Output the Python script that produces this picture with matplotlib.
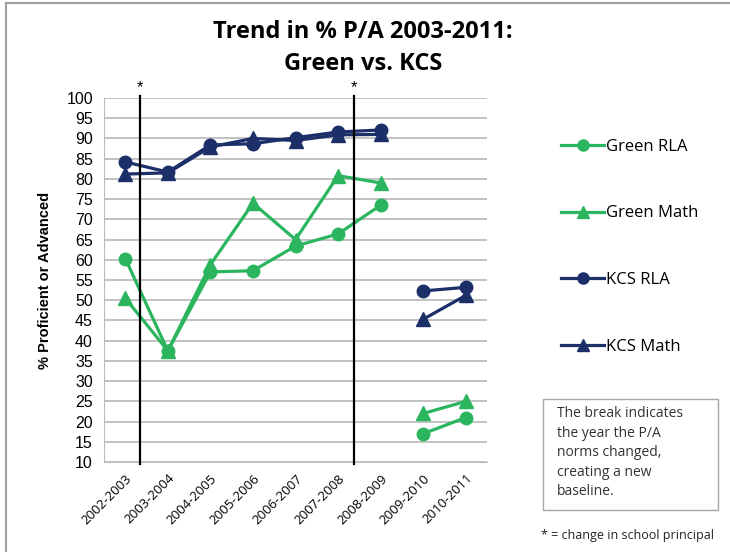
import numpy as np
import matplotlib.pyplot as plt
from matplotlib.lines import Line2D
from matplotlib.patches import Rectangle

years = ["2002-2003", "2003-2004", "2004-2005", "2005-2006", "2006-2007",
         "2007-2008", "2008-2009", "2009-2010", "2010-2011"]
green_rla = [60.3, 37.5, 57.0, 57.3, 63.4, 66.4, 73.5, 17.0, 21.0]
green_math = [50.5, 37.5, 58.8, 74.0, 65.0, 80.8, 79.0, 22.0, 25.0]
kcs_rla = [84.2, 81.7, 88.4, 88.7, 90.2, 91.6, 92.1, 52.3, 53.2]
kcs_math = [81.2, 81.5, 87.9, 90.0, 89.5, 90.9, 91.0, 45.3, 51.2]
brk = 7  # norms changed after 2008-2009

GREEN = "#2BB55E"
NAVY = "#1C2F68"

fig = plt.figure(figsize=(7.3, 5.52), dpi=100)
ax = fig.add_axes([0.1425, 0.163, 0.5247, 0.6594])

x = np.arange(len(years))
series = [
    ("Green RLA", green_rla, GREEN, "o", 9),
    ("Green Math", green_math, GREEN, "^", 10),
    ("KCS RLA", kcs_rla, NAVY, "o", 9),
    ("KCS Math", kcs_math, NAVY, "^", 10),
]
handles = []
for name, vals, col, mk, ms in series:
    v = np.array(vals)
    ax.plot(x[:brk], v[:brk], color=col, lw=2.3, marker=mk, ms=ms, zorder=3)
    ax.plot(x[brk:], v[brk:], color=col, lw=2.3, marker=mk, ms=ms, zorder=3)
    handles.append(Line2D([], [], color=col, lw=2.3, marker=mk, ms=ms - 1))

# principal changes
for xv in [0.35, 5.38]:
    ax.plot([xv, xv], [9.6, 100.4], color="black", lw=1.6, clip_on=False, zorder=4)
    ax.text(xv, 100.6, "*", ha="center", va="bottom", fontsize=12, family="Liberation Sans")

ax.set_xlim(-0.5, 8.5)
ax.set_ylim(10, 100)
ax.set_yticks(np.arange(10, 101, 5))
ax.yaxis.grid(True, color="#BDBDBD", lw=1.3)
ax.set_axisbelow(True)
ax.set_xticks(x)
ax.set_xticklabels(years, rotation=45, ha="right", rotation_mode="anchor",
                   fontsize=9.5, family="Open Sans")
for lab in ax.get_yticklabels():
    lab.set_family("Liberation Sans")
    lab.set_fontsize(11.5)
ax.tick_params(axis="y", length=0, pad=8)
ax.tick_params(axis="x", length=0, pad=7)
for s in ["top", "right"]:
    ax.spines[s].set_visible(False)
ax.spines["left"].set_color("#BDBDBD")
ax.spines["bottom"].set_color("#BDBDBD")
ax.set_ylabel("% Proficient or Advanced", fontsize=10.5, fontweight="bold",
              family="Liberation Sans", labelpad=10)

fig.text(0.497, 0.913, "Trend in % P/A 2003-2011:\nGreen vs. KCS", ha="center", va="center",
         fontsize=17, fontweight="bold", family="Open Sans", linespacing=1.4)

fig.legend(handles, [s[0] for s in series], loc="upper left", bbox_to_anchor=(0.748, 0.776),
           frameon=False, handlelength=2.6, handletextpad=0.1,
           labelspacing=3.05, prop={"family": "Open Sans", "size": 12})

# note box
fig.patches.append(Rectangle((543 / 730, 1 - 510 / 552), 175 / 730, 111 / 552,
                             transform=fig.transFigure, fill=False, ec="#A6A6A6", lw=1))
fig.text(557 / 730, 1 - 406 / 552,
         "The break indicates\nthe year the P/A\nnorms changed,\ncreating a new\nbaseline.",
         ha="left", va="top", fontsize=10, family="Open Sans", linespacing=1.42, color="#333333")
fig.text(541 / 730, 1 - 535 / 552, "* = change in school principal", ha="left", va="center",
         fontsize=9, family="Open Sans", color="#222222")

# frame at left/top
fig.add_artist(Line2D([6 / 730, 6 / 730], [0, 1 - 3 / 552], transform=fig.transFigure,
                      color="#A0A0A0", lw=1.5))
fig.add_artist(Line2D([6 / 730, 1], [1 - 3 / 552, 1 - 3 / 552], transform=fig.transFigure,
                      color="#A0A0A0", lw=1.5))

plt.savefig("out.png", dpi=100)
